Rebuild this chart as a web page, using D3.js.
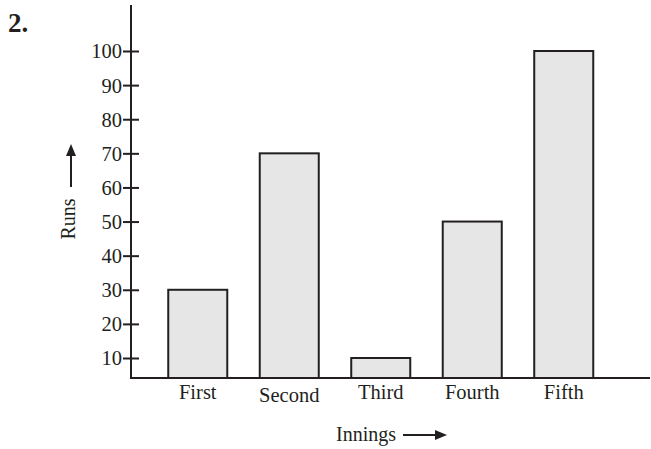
<!DOCTYPE html>
<html><head><meta charset="utf-8">
<script src="https://cdn.jsdelivr.net/npm/d3@7"></script>
<style>body{margin:0;background:#fff}svg{display:block}text{font-family:"Liberation Serif","Times New Roman",serif;fill:#231f20}</style>
</head><body>
<script>
const categories = ["First", "Second", "Third", "Fourth", "Fifth"];
const runs = [30, 70, 10, 50, 100];
const yTicks = [10, 20, 30, 40, 50, 60, 70, 80, 90, 100];

const W = 651, H = 449, ink = "#231f20";
const axisX = 131, axisTop = 5, baseY = 378, axisRight = 650;
const svg = d3.select("body").append("svg").attr("width", W).attr("height", H);

const x = d3.scaleBand().domain(categories).range([122.5, 639]).paddingInner(0.355).paddingOuter(0.5);
const y = d3.scaleLinear().domain([10, 100]).range([358, 51]);

// bars
svg.selectAll("rect.bar").data(categories).join("rect")
  .attr("class", "bar")
  .attr("x", d => x(d)).attr("width", x.bandwidth())
  .attr("y", (d, i) => y(runs[i])).attr("height", (d, i) => baseY - y(runs[i]))
  .attr("fill", "#e6e6e6").attr("stroke", ink).attr("stroke-width", 2);

// y axis
const yAxis = d3.axisLeft(y).tickValues(yTicks).tickSizeInner(8).tickSizeOuter(0).tickPadding(1);
const gy = svg.append("g").attr("transform", `translate(${axisX},0)`).call(yAxis);
gy.select(".domain").remove();
gy.selectAll(".tick line").attr("x1", 8).attr("x2", -8).attr("stroke", ink).attr("stroke-width", 2);
gy.selectAll(".tick text").attr("font-size", 20.5).attr("fill", ink).attr("x", -9).attr("dy", "0.34em");
svg.append("line").attr("x1", axisX).attr("x2", axisX).attr("y1", axisTop).attr("y2", baseY + 1)
  .attr("stroke", ink).attr("stroke-width", 2);

// x axis
svg.append("line").attr("x1", axisX - 1).attr("x2", axisRight).attr("y1", baseY).attr("y2", baseY)
  .attr("stroke", ink).attr("stroke-width", 2);
const xAxis = d3.axisBottom(x).tickSize(0).tickPadding(0);
const gx = svg.append("g").attr("transform", `translate(0,${baseY})`).call(xAxis);
gx.select(".domain").remove();
gx.selectAll(".tick text").attr("font-size", 20.5).attr("fill", ink)
  .attr("y", 21).attr("dy", 0)
  .attr("transform", d => d === "Second" ? "translate(0,3)" : null);

// title number
svg.append("text").attr("x", 8).attr("y", 32).attr("font-size", 27).attr("font-weight", "bold").text("2.");

// y label with arrow
svg.append("text").attr("transform", "translate(75,219) rotate(-90)").attr("text-anchor", "middle")
  .attr("font-size", 20).text("Runs");
svg.append("line").attr("x1", 71).attr("x2", 71).attr("y1", 187).attr("y2", 152).attr("stroke", ink).attr("stroke-width", 2);
svg.append("path").attr("d", "M71,144 L66,156 L76,156 Z").attr("fill", ink);

// x label with arrow
svg.append("text").attr("x", 366).attr("y", 441).attr("text-anchor", "middle").attr("font-size", 20).text("Innings");
svg.append("line").attr("x1", 403).attr("x2", 436).attr("y1", 435).attr("y2", 435).attr("stroke", ink).attr("stroke-width", 2);
svg.append("path").attr("d", "M447,435 L435,430 L435,440 Z").attr("fill", ink);
</script>
</body></html>
